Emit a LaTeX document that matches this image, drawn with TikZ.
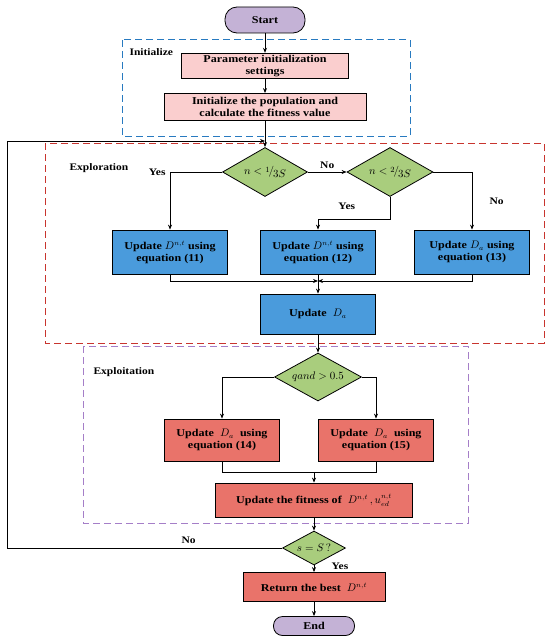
\documentclass[tikz,border=0pt]{standalone}
\usepackage{fontspec}
\setmainfont{Liberation Serif}
\newfontfamily\boxfont{Liberation Serif}[FakeStretch=1.15]
\usetikzlibrary{shapes.geometric,arrows.meta,positioning}
\definecolor{termfill}{RGB}{196,178,214}
\definecolor{pinkfill}{RGB}{250,206,206}
\definecolor{greenfill}{RGB}{169,205,125}
\definecolor{bluefill}{RGB}{74,155,220}
\definecolor{redfill}{RGB}{233,115,106}
\definecolor{initline}{RGB}{40,122,192}
\definecolor{explline}{RGB}{200,52,46}
\definecolor{exploitline}{RGB}{165,126,200}
\newcommand{\slfrac}[2]{\raisebox{2.5pt}{$\scriptstyle #1$}\kern-1pt\big/\kern-1pt\raisebox{-2.5pt}{$#2$}}

\begin{document}
\begin{tikzpicture}[x=1pt,y=-1pt,>={Stealth[length=5pt,width=4pt]},
  every node/.style={font=\boxfont\fontsize{10.5}{12}\selectfont\bfseries},
  basebox/.style={draw,line width=0.8pt,align=center,inner sep=2pt},
  termbox/.style={basebox,fill=termfill,rounded corners=12pt},
  pinkbox/.style={basebox,fill=pinkfill},
  bluebox/.style={basebox,fill=bluefill,minimum width=115pt,minimum height=44pt},
  redbox/.style={basebox,fill=redfill},
  decision/.style={draw,line width=0.8pt,fill=greenfill,diamond,aspect=1.75,inner sep=0pt,font=\fontsize{11}{13}\selectfont},
  region/.style={line width=1pt,dash pattern=on 7pt off 4pt},
  regionlabel/.style={anchor=west,font=\boxfont\fontsize{10}{12}\selectfont\bfseries},
  flow/.style={->,line width=0.7pt},
  tag/.style={font=\boxfont\fontsize{10}{12}\selectfont\bfseries}]
  \useasboundingbox (0,0) rectangle (550,642);

  % dashed regions
  \draw[region,initline] (122,40) rectangle (410,136);
  \draw[region,explline] (45,143) rectangle (544,343);
  \draw[region,exploitline] (83,346) rectangle (468,523);
  \node[regionlabel] (initlabel) at (126,52) {Initialize};
  \node[regionlabel] (explabel) at (66,168) {Exploration};
  \node[regionlabel] (exploitlabel) at (90,372) {Exploitation};

  % initialization
  \node[termbox,minimum width=80pt,minimum height=26pt] (start) at (265,20) {Start};
  \node[pinkbox,minimum width=167pt,minimum height=25pt] (param) at (265,66) {Parameter initialization\\settings};
  \node[pinkbox,minimum width=202pt,minimum height=27pt] (initpop) at (265,107) {Initialize the population and\\calculate the fitness value};

  % exploration
  \node[decision,minimum width=85pt,minimum height=49pt] (cond1) at (265,172) {$n<\slfrac{1}{3S}$};
  \node[decision,minimum width=86pt,minimum height=49pt] (cond2) at (390,172) {$n<\slfrac{2}{3S}$};
  \node[bluebox] (upd11) at (170,252) {Update $D^{n,t}$ using\\equation (11)};
  \node[bluebox] (upd12) at (318,252) {Update $D^{n,t}$ using\\equation (12)};
  \node[bluebox] (upd13) at (472,252) {Update $D_a$ using\\equation (13)};
  \node[bluebox,minimum height=40pt] (updda) at (318,314) {Update\ \ $D_a$};
  \coordinate (merge1) at (318,281);

  % exploitation
  \node[decision,minimum width=87pt,minimum height=48pt] (qand) at (318,377) {$qand>0.5$};
  \node[redbox,minimum width=115pt,minimum height=42pt] (upd14) at (222,440) {Update\ \ $D_a$\ \ using\\equation (14)};
  \node[redbox,minimum width=115pt,minimum height=42pt] (upd15) at (376,440) {Update\ \ $D_a$\ \ using\\equation (15)};
  \node[redbox,minimum width=197pt,minimum height=34pt] (fitness) at (314,500) {Update the fitness of\ \ $D^{n,t}\,,u_{ed}^{n,t}$};
  \coordinate (merge2) at (314,472);

  % termination
  \node[decision,minimum width=63pt,minimum height=34pt] (stop) at (314,548) {$s=S\,?$};
  \node[redbox,minimum width=142pt,minimum height=29pt] (best) at (314,587) {Return the best\ \ $D^{n,t}$};
  \node[termbox,minimum width=81pt,minimum height=19pt,rounded corners=9pt] (finish) at (314,626) {End};
  \coordinate (join) at (265,141);

  \draw[flow] (start) -- (param);
  \draw[flow] (param) -- (initpop);
  \draw[flow] (initpop) -- (cond1);
  \draw[flow] (cond1.west) -| node[tag,pos=0.45,left=6pt]{Yes} (upd11.north);
  \draw[flow] (cond1.east) -- node[tag,above]{No} (cond2.west);
  \draw[flow] (cond2.south) |- (318,219) node[tag,pos=0.8,above=6pt]{Yes} -- (upd12.north);
  \draw[flow] (cond2.east) -| node[tag,pos=0.75,right=14pt]{No} (upd13.north);
  \draw[flow] (upd11.south) |- (merge1);
  \draw[flow] (upd13.south) |- (merge1);
  \draw[flow] (upd12.south) -- (updda.north);
  \draw[flow] (updda) -- (qand);
  \draw[flow] (qand.west) -| (upd14.north);
  \draw[flow] (qand.east) -| (upd15.north);
  \draw[line width=0.7pt] (upd14.south) |- (merge2);
  \draw[line width=0.7pt] (upd15.south) |- (merge2);
  \draw[flow] (merge2) -- (fitness.north);
  \draw[flow] (fitness) -- (stop);
  \draw[flow] (stop.west) -- node[tag,pos=0.34,above=1pt]{No} (7,548) |- (join);
  \draw[flow] (stop) -- node[tag,right=14pt,pos=0.2]{Yes} (best);
  \draw[flow] (best) -- (finish);
\end{tikzpicture}
\end{document}
